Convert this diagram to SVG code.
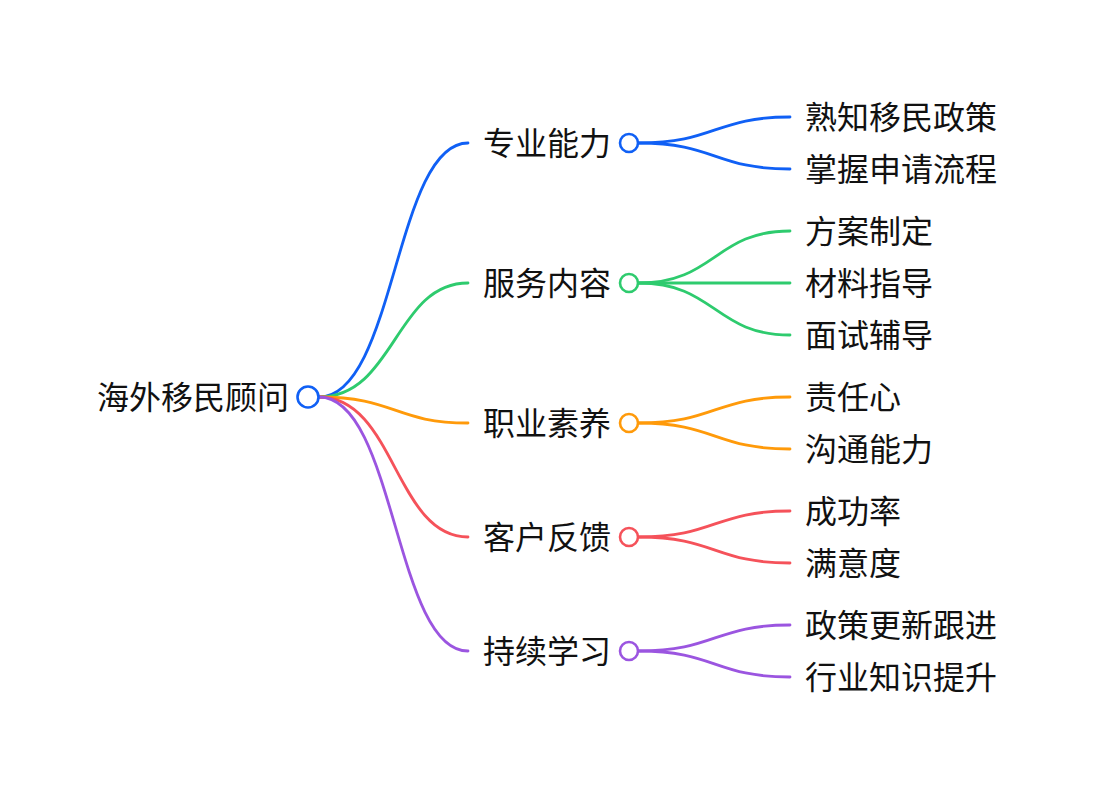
<svg xmlns="http://www.w3.org/2000/svg" width="1098" height="792" viewBox="0 0 1098 792">
<style>
text{font-family:"Noto Sans CJK SC","Noto Sans",sans-serif;font-size:32px;fill:#111;dominant-baseline:central}
.l{fill:none;stroke-width:2.8;stroke-linecap:round}
.c{fill:#fff;stroke-width:2.6}
.b{stroke:#1060f5}.g{stroke:#2ecb6e}.o{stroke:#ff9a0a}.r{stroke:#f5525a}.p{stroke:#9b55e0}
</style>
<rect width="1098" height="792" fill="#fff"/>
<g id="connectors">
<path class="l b" d="M319,397 C395,397 395,143 468,143"/>
<path class="l g" d="M319,397 C395,397 395,283 468,283"/>
<path class="l o" d="M319,397 C395,397 395,423 468,423"/>
<path class="l r" d="M319,397 C395,397 395,537 468,537"/>
<path class="l p" d="M319,397 C395,397 395,651 468,651"/>
<path class="l b" d="M639,143 C715,143 715,117 790,117"/>
<path class="l b" d="M639,143 C715,143 715,169 790,169"/>
<path class="l g" d="M639,283 C715,283 715,231 790,231"/>
<path class="l g" d="M639,283 L790,283"/>
<path class="l g" d="M639,283 C715,283 715,335 790,335"/>
<path class="l o" d="M639,423 C715,423 715,397 790,397"/>
<path class="l o" d="M639,423 C715,423 715,449 790,449"/>
<path class="l r" d="M639,537 C715,537 715,511 790,511"/>
<path class="l r" d="M639,537 C715,537 715,563 790,563"/>
<path class="l p" d="M639,651 C715,651 715,625 790,625"/>
<path class="l p" d="M639,651 C715,651 715,677 790,677"/>
</g>
<g id="root"><text x="289" y="395" text-anchor="end">海外移民顾问</text><circle class="c b" cx="308" cy="397" r="10.5" stroke-width="3"/></g>
<g id="n1"><text x="483" y="141">专业能力</text><circle class="c b" cx="629" cy="143" r="9"/></g>
<g id="n2"><text x="483" y="281">服务内容</text><circle class="c g" cx="629" cy="283" r="9"/></g>
<g id="n3"><text x="483" y="421">职业素养</text><circle class="c o" cx="629" cy="423" r="9"/></g>
<g id="n4"><text x="483" y="535">客户反馈</text><circle class="c r" cx="629" cy="537" r="9"/></g>
<g id="n5"><text x="483" y="649">持续学习</text><circle class="c p" cx="629" cy="651" r="9"/></g>
<g id="n1a"><text x="805" y="115">熟知移民政策</text></g>
<g id="n1b"><text x="805" y="167">掌握申请流程</text></g>
<g id="n2a"><text x="805" y="229">方案制定</text></g>
<g id="n2b"><text x="805" y="281">材料指导</text></g>
<g id="n2c"><text x="805" y="333">面试辅导</text></g>
<g id="n3a"><text x="805" y="395">责任心</text></g>
<g id="n3b"><text x="805" y="447">沟通能力</text></g>
<g id="n4a"><text x="805" y="509">成功率</text></g>
<g id="n4b"><text x="805" y="561">满意度</text></g>
<g id="n5a"><text x="805" y="623">政策更新跟进</text></g>
<g id="n5b"><text x="805" y="675">行业知识提升</text></g>
</svg>
